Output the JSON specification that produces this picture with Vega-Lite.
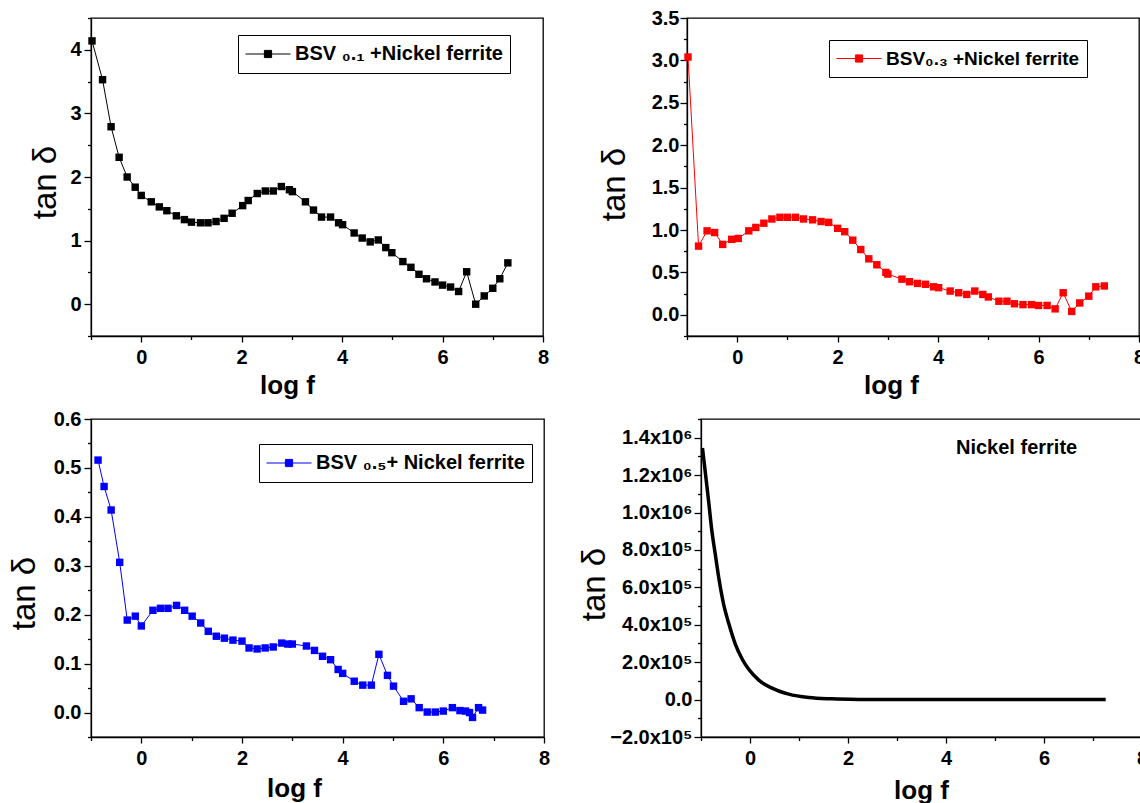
{
  "$schema": "https://vega.github.io/schema/vega-lite/v6.json",
  "background": "white",
  "padding": {"left": 7, "top": 7, "right": 0, "bottom": 0},
  "config": {
    "font": "Liberation Sans",
    "view": {"stroke": "#000000", "strokeWidth": 1.3},
    "axis": {
      "grid": false,
      "domainColor": "#000000",
      "domainWidth": 1.3,
      "tickColor": "#000000",
      "tickWidth": 1.3,
      "labelColor": "#000000",
      "labelFont": "Liberation Sans",
      "labelFontSize": 20,
      "labelFontWeight": "bold",
      "labelFlush": false,
      "labelOverlap": false,
      "titleColor": "#000000",
      "titleFont": "Liberation Sans"
    },
    "axisX": {"titleFontSize": 26, "titleFontWeight": "bold"},
    "axisY": {"titleFontSize": 33, "titleFontWeight": "normal"}
  },
  "datasets": {
    "bsv01": [
      {"logf": -0.98, "tan": 4.14}, {"logf": -0.77, "tan": 3.53}, {"logf": -0.6, "tan": 2.79}, {"logf": -0.44, "tan": 2.31},
      {"logf": -0.28, "tan": 2.0}, {"logf": -0.12, "tan": 1.84}, {"logf": 0.0, "tan": 1.71}, {"logf": 0.2, "tan": 1.61},
      {"logf": 0.36, "tan": 1.53}, {"logf": 0.51, "tan": 1.47}, {"logf": 0.7, "tan": 1.39}, {"logf": 0.86, "tan": 1.33},
      {"logf": 1.0, "tan": 1.29}, {"logf": 1.18, "tan": 1.28}, {"logf": 1.33, "tan": 1.28}, {"logf": 1.49, "tan": 1.3},
      {"logf": 1.65, "tan": 1.35}, {"logf": 1.81, "tan": 1.43}, {"logf": 2.02, "tan": 1.55}, {"logf": 2.13, "tan": 1.63},
      {"logf": 2.31, "tan": 1.74}, {"logf": 2.47, "tan": 1.78}, {"logf": 2.63, "tan": 1.78}, {"logf": 2.79, "tan": 1.85},
      {"logf": 2.95, "tan": 1.8}, {"logf": 3.01, "tan": 1.77}, {"logf": 3.27, "tan": 1.61}, {"logf": 3.43, "tan": 1.48},
      {"logf": 3.59, "tan": 1.37}, {"logf": 3.77, "tan": 1.37}, {"logf": 3.93, "tan": 1.28}, {"logf": 4.01, "tan": 1.25},
      {"logf": 4.24, "tan": 1.12}, {"logf": 4.4, "tan": 1.04}, {"logf": 4.56, "tan": 0.98}, {"logf": 4.72, "tan": 1.01},
      {"logf": 4.87, "tan": 0.89}, {"logf": 4.99, "tan": 0.81}, {"logf": 5.21, "tan": 0.67}, {"logf": 5.37, "tan": 0.58},
      {"logf": 5.53, "tan": 0.47}, {"logf": 5.68, "tan": 0.4}, {"logf": 5.85, "tan": 0.35}, {"logf": 6.0, "tan": 0.3},
      {"logf": 6.16, "tan": 0.27}, {"logf": 6.32, "tan": 0.2}, {"logf": 6.48, "tan": 0.51}, {"logf": 6.66, "tan": 0.0},
      {"logf": 6.83, "tan": 0.13}, {"logf": 7.0, "tan": 0.25}, {"logf": 7.14, "tan": 0.4}, {"logf": 7.3, "tan": 0.65}
    ],
    "bsv03": [
      {"logf": -0.98, "tan": 3.04}, {"logf": -0.77, "tan": 0.81}, {"logf": -0.6, "tan": 0.99}, {"logf": -0.45, "tan": 0.97},
      {"logf": -0.29, "tan": 0.83}, {"logf": -0.11, "tan": 0.89}, {"logf": 0.02, "tan": 0.9}, {"logf": 0.23, "tan": 0.99},
      {"logf": 0.37, "tan": 1.03}, {"logf": 0.53, "tan": 1.08}, {"logf": 0.69, "tan": 1.13}, {"logf": 0.85, "tan": 1.15},
      {"logf": 1.0, "tan": 1.15}, {"logf": 1.16, "tan": 1.15}, {"logf": 1.32, "tan": 1.13}, {"logf": 1.5, "tan": 1.12},
      {"logf": 1.67, "tan": 1.1}, {"logf": 1.82, "tan": 1.09}, {"logf": 2.0, "tan": 1.02}, {"logf": 2.14, "tan": 0.98},
      {"logf": 2.3, "tan": 0.88}, {"logf": 2.46, "tan": 0.77}, {"logf": 2.62, "tan": 0.66}, {"logf": 2.78, "tan": 0.59},
      {"logf": 2.96, "tan": 0.5}, {"logf": 3.0, "tan": 0.48}, {"logf": 3.28, "tan": 0.42}, {"logf": 3.43, "tan": 0.39},
      {"logf": 3.59, "tan": 0.37}, {"logf": 3.75, "tan": 0.36}, {"logf": 3.91, "tan": 0.33}, {"logf": 4.01, "tan": 0.32},
      {"logf": 4.24, "tan": 0.28}, {"logf": 4.41, "tan": 0.26}, {"logf": 4.57, "tan": 0.24}, {"logf": 4.73, "tan": 0.28},
      {"logf": 4.89, "tan": 0.24}, {"logf": 5.0, "tan": 0.21}, {"logf": 5.21, "tan": 0.16}, {"logf": 5.37, "tan": 0.16},
      {"logf": 5.52, "tan": 0.13}, {"logf": 5.69, "tan": 0.12}, {"logf": 5.86, "tan": 0.12}, {"logf": 6.0, "tan": 0.11},
      {"logf": 6.17, "tan": 0.11}, {"logf": 6.33, "tan": 0.07}, {"logf": 6.49, "tan": 0.26}, {"logf": 6.66, "tan": 0.04},
      {"logf": 6.82, "tan": 0.14}, {"logf": 7.0, "tan": 0.22}, {"logf": 7.14, "tan": 0.33}, {"logf": 7.31, "tan": 0.34}
    ],
    "bsv05": [
      {"logf": -0.86, "tan": 0.516}, {"logf": -0.74, "tan": 0.462}, {"logf": -0.6, "tan": 0.414}, {"logf": -0.43, "tan": 0.307},
      {"logf": -0.28, "tan": 0.189}, {"logf": -0.12, "tan": 0.197}, {"logf": 0.0, "tan": 0.177}, {"logf": 0.23, "tan": 0.209},
      {"logf": 0.38, "tan": 0.213}, {"logf": 0.53, "tan": 0.213}, {"logf": 0.7, "tan": 0.219}, {"logf": 0.86, "tan": 0.209},
      {"logf": 1.01, "tan": 0.197}, {"logf": 1.18, "tan": 0.183}, {"logf": 1.33, "tan": 0.166}, {"logf": 1.49, "tan": 0.156},
      {"logf": 1.65, "tan": 0.152}, {"logf": 1.82, "tan": 0.148}, {"logf": 2.0, "tan": 0.146}, {"logf": 2.14, "tan": 0.132},
      {"logf": 2.3, "tan": 0.13}, {"logf": 2.46, "tan": 0.132}, {"logf": 2.62, "tan": 0.134}, {"logf": 2.79, "tan": 0.142},
      {"logf": 2.91, "tan": 0.14}, {"logf": 3.0, "tan": 0.14}, {"logf": 3.28, "tan": 0.136}, {"logf": 3.44, "tan": 0.127},
      {"logf": 3.6, "tan": 0.115}, {"logf": 3.76, "tan": 0.108}, {"logf": 3.91, "tan": 0.088}, {"logf": 4.0, "tan": 0.08},
      {"logf": 4.23, "tan": 0.064}, {"logf": 4.4, "tan": 0.056}, {"logf": 4.57, "tan": 0.056}, {"logf": 4.72, "tan": 0.119},
      {"logf": 4.89, "tan": 0.076}, {"logf": 5.01, "tan": 0.054}, {"logf": 5.21, "tan": 0.023}, {"logf": 5.36, "tan": 0.028},
      {"logf": 5.52, "tan": 0.01}, {"logf": 5.68, "tan": 0.001}, {"logf": 5.84, "tan": 0.001}, {"logf": 6.0, "tan": 0.003},
      {"logf": 6.18, "tan": 0.01}, {"logf": 6.33, "tan": 0.004}, {"logf": 6.44, "tan": 0.003}, {"logf": 6.52, "tan": 0.0},
      {"logf": 6.58, "tan": -0.01}, {"logf": 6.7, "tan": 0.01}, {"logf": 6.78, "tan": 0.005}
    ],
    "nife": [
      {"logf": -0.97, "tan": 1345000}, {"logf": -0.91, "tan": 1210000}, {"logf": -0.84, "tan": 1050000}, {"logf": -0.78, "tan": 905000},
      {"logf": -0.71, "tan": 780000}, {"logf": -0.64, "tan": 655000}, {"logf": -0.54, "tan": 512000}, {"logf": -0.43, "tan": 404000},
      {"logf": -0.3, "tan": 297000}, {"logf": -0.16, "tan": 217000}, {"logf": -0.03, "tan": 163000}, {"logf": 0.18, "tan": 104000},
      {"logf": 0.45, "tan": 61000}, {"logf": 0.79, "tan": 29000}, {"logf": 1.2, "tan": 11000}, {"logf": 1.67, "tan": 4000},
      {"logf": 2.22, "tan": 1000}, {"logf": 2.9, "tan": 0}, {"logf": 4.0, "tan": 0}, {"logf": 5.0, "tan": 0},
      {"logf": 6.0, "tan": 0}, {"logf": 7.26, "tan": 0}
    ]
  },
  "spacing": 9,
  "resolve": {"scale": {"x": "independent", "y": "independent", "color": "independent"}, "legend": {"color": "independent"}},
  "vconcat": [
    {
      "hconcat": [
        {
          "width": 452, "height": 318,
          "data": {"name": "bsv01"},
          "layer": [
            {
              "mark": {"type": "line", "strokeWidth": 1},
              "encoding": {
                "x": {"field": "logf", "type": "quantitative", "scale": {"domain": [-1, 8], "nice": false, "zero": false},
                  "axis": {"values": [0, 2, 4, 6, 8], "format": "d", "title": "log f", "tickSize": 6, "labelPadding": 5, "labelFontWeight": "bold", "titleX": 196, "titleY": 57, "titleBaseline": "alphabetic", "titleAlign": "center"}},
                "y": {"field": "tan", "type": "quantitative", "scale": {"domain": [-0.5, 4.5], "nice": false, "zero": false},
                  "axis": {"values": [0, 1, 2, 3, 4], "format": "d", "title": "tan δ", "tickSize": 7, "labelPadding": 3, "labelFontWeight": "bold", "titleX": -36, "titleY": 164, "titleAngle": -90, "titleBaseline": "alphabetic", "titleAlign": "center"}},
                "color": {"datum": "BSV ₀.₁ +Nickel ferrite", "type": "nominal", "scale": {"range": ["#000000"]},
                  "legend": {"title": null, "orient": "none", "legendX": 147, "legendY": 17, "strokeColor": "#000000", "fillColor": "white", "padding": 7,
                    "labelFont": "Liberation Sans", "labelFontSize": 20, "labelFontWeight": "bold", "labelColor": "#000000", "labelLimit": 400, "labelOffset": 4,
                    "symbolType": "M-1,0H1M-0.16,-0.16H0.16V0.16H-0.16Z", "symbolSize": 2025, "clipHeight": 24, "symbolStrokeWidth": 1,
                    "encode": {"symbols": {"update": {"fill": {"value": "#000000"}, "stroke": {"value": "#000000"}, "strokeWidth": {"value": 1}}}}}}
              }
            },
            {
              "mark": {"type": "point", "shape": "square", "filled": true, "size": 55, "color": "#000000", "opacity": 1},
              "encoding": {
                "x": {"field": "logf", "type": "quantitative", "axis": {"orient": "bottom", "values": [-1, 1, 3, 5, 7], "labels": false, "domain": false, "title": null, "tickSize": 3.5}},
                "y": {"field": "tan", "type": "quantitative", "axis": {"orient": "left", "values": [-0.5, 0.5, 1.5, 2.5, 3.5, 4.5], "labels": false, "domain": false, "tickSize": 3.5,
                  "title": "tan δ", "titleOpacity": 0, "titleX": -57, "titleY": 164, "titleAngle": -90, "titleBaseline": "alphabetic", "titleAlign": "center"}}
              }
            }
          ],
          "resolve": {"axis": {"x": "independent", "y": "independent"}}
        },
        {
          "width": 452, "height": 318,
          "data": {"name": "bsv03"},
          "layer": [
            {
              "mark": {"type": "line", "strokeWidth": 1},
              "encoding": {
                "x": {"field": "logf", "type": "quantitative", "scale": {"domain": [-1, 8], "nice": false, "zero": false},
                  "axis": {"values": [0, 2, 4, 6, 8], "format": "d", "title": "log f", "tickSize": 6, "labelPadding": 5, "labelFontWeight": "bold", "titleX": 204, "titleY": 57, "titleBaseline": "alphabetic", "titleAlign": "center"}},
                "y": {"field": "tan", "type": "quantitative", "scale": {"domain": [-0.25, 3.5], "nice": false, "zero": false},
                  "axis": {"values": [0, 0.5, 1, 1.5, 2, 2.5, 3, 3.5], "format": ".1f", "title": "tan δ", "tickSize": 7, "labelPadding": 1, "labelFontWeight": "bold", "titleX": -63, "titleY": 166, "titleAngle": -90, "titleBaseline": "alphabetic", "titleAlign": "center"}},
                "color": {"datum": "BSV₀.₃ +Nickel ferrite", "type": "nominal", "scale": {"range": ["#ff0000"]},
                  "legend": {"title": null, "orient": "none", "legendX": 142, "legendY": 22, "strokeColor": "#000000", "fillColor": "white", "padding": 7,
                    "labelFont": "Liberation Sans", "labelFontSize": 19, "labelFontWeight": "bold", "labelColor": "#000000", "labelLimit": 400, "labelOffset": 4,
                    "symbolType": "M-1,0H1M-0.16,-0.16H0.16V0.16H-0.16Z", "symbolSize": 2025, "clipHeight": 23, "symbolStrokeWidth": 1,
                    "encode": {"symbols": {"update": {"fill": {"value": "#ff0000"}, "stroke": {"value": "#ff0000"}, "strokeWidth": {"value": 1}}}}}}
              }
            },
            {
              "mark": {"type": "point", "shape": "square", "filled": true, "size": 55, "color": "#ff0000", "opacity": 1},
              "encoding": {
                "x": {"field": "logf", "type": "quantitative", "axis": {"orient": "bottom", "values": [-1, 1, 3, 5, 7], "labels": false, "domain": false, "title": null, "tickSize": 3.5}},
                "y": {"field": "tan", "type": "quantitative", "axis": {"orient": "left", "values": [-0.25, 0.25, 0.75, 1.25, 1.75, 2.25, 2.75, 3.25], "labels": false, "domain": false, "title": null, "tickSize": 3.5}}
              }
            }
          ],
          "resolve": {"axis": {"x": "independent", "y": "independent"}}
        }
      ],
      "spacing": 144,
      "bounds": "flush",
      "resolve": {"scale": {"x": "independent", "y": "independent", "color": "independent"}, "legend": {"color": "independent"}}
    },
    {
      "hconcat": [
        {
          "width": 453, "height": 318,
          "data": {"name": "bsv05"},
          "layer": [
            {
              "mark": {"type": "line", "strokeWidth": 1},
              "encoding": {
                "x": {"field": "logf", "type": "quantitative", "scale": {"domain": [-1, 8], "nice": false, "zero": false},
                  "axis": {"values": [0, 2, 4, 6, 8], "format": "d", "title": "log f", "tickSize": 6, "labelPadding": 5, "labelFontWeight": "bold", "titleX": 203, "titleY": 59, "titleBaseline": "alphabetic", "titleAlign": "center"}},
                "y": {"field": "tan", "type": "quantitative", "scale": {"domain": [-0.05, 0.6], "nice": false, "zero": false},
                  "axis": {"values": [0, 0.1, 0.2, 0.3, 0.4, 0.5, 0.6], "format": ".1f", "title": "tan δ", "tickSize": 7, "labelPadding": 3, "labelFontWeight": "bold", "titleX": -57, "titleY": 174, "titleAngle": -90, "titleBaseline": "alphabetic", "titleAlign": "center"}},
                "color": {"datum": "BSV ₀.₅+ Nickel ferrite", "type": "nominal", "scale": {"range": ["#0000ff"]},
                  "legend": {"title": null, "orient": "none", "legendX": 168, "legendY": 25, "strokeColor": "#000000", "fillColor": "white", "padding": 7,
                    "labelFont": "Liberation Sans", "labelFontSize": 20, "labelFontWeight": "bold", "labelColor": "#000000", "labelLimit": 400, "labelOffset": 4,
                    "symbolType": "M-1,0H1M-0.16,-0.16H0.16V0.16H-0.16Z", "symbolSize": 2025, "clipHeight": 24, "symbolStrokeWidth": 1,
                    "encode": {"symbols": {"update": {"fill": {"value": "#0000ff"}, "stroke": {"value": "#0000ff"}, "strokeWidth": {"value": 1}}}}}}
              }
            },
            {
              "mark": {"type": "point", "shape": "square", "filled": true, "size": 55, "color": "#0000ff", "opacity": 1},
              "encoding": {
                "x": {"field": "logf", "type": "quantitative", "axis": {"orient": "bottom", "values": [-1, 1, 3, 5, 7], "labels": false, "domain": false, "title": null, "tickSize": 3.5}},
                "y": {"field": "tan", "type": "quantitative", "axis": {"orient": "left", "values": [-0.05, 0.05, 0.15, 0.25, 0.35, 0.45, 0.55], "labels": false, "domain": false, "title": null, "tickSize": 3.5}}
              }
            }
          ],
          "resolve": {"axis": {"x": "independent", "y": "independent"}}
        },
        {
          "width": 441, "height": 318,
          "data": {"name": "nife"},
          "layer": [
            {
              "mark": {"type": "line", "strokeWidth": 3.5, "interpolate": "monotone"},
              "encoding": {
                "x": {"field": "logf", "type": "quantitative", "scale": {"domain": [-1, 8], "nice": false, "zero": false},
                  "axis": {"values": [0, 2, 4, 6, 8], "format": "d", "title": "log f", "tickSize": 6, "labelPadding": 5, "labelFontWeight": "bold", "titleX": 220, "titleY": 61, "titleBaseline": "alphabetic", "titleAlign": "center"}},
                "y": {"field": "tan", "type": "quantitative", "scale": {"domain": [-200000, 1500000], "nice": false, "zero": false},
                  "axis": {"values": [-200000, 0, 200000, 400000, 600000, 800000, 1000000, 1200000, 1400000],
                    "labelExpr": "datum.value == 0 ? '0.0' : (abs(datum.value) >= 1000000 ? format(datum.value / 1000000, '.1f') + 'x10⁶' : format(datum.value / 100000, '.1f') + 'x10⁵')",
                    "labelFontWeight": "bold", "title": "tan δ", "tickSize": 7, "labelPadding": 2, "titleX": -97, "titleY": 165, "titleAngle": -90, "titleBaseline": "alphabetic", "titleAlign": "center"}},
                "color": {"datum": "Nickel ferrite", "type": "nominal", "scale": {"range": ["#000000"]},
                  "legend": {"title": null, "orient": "none", "legendX": 235, "legendY": 19, "padding": 0,
                    "labelFont": "Liberation Sans", "labelFontSize": 20, "labelFontWeight": "bold", "labelColor": "#000000", "labelLimit": 400, "labelOffset": 0,
                    "symbolSize": 0, "symbolOpacity": 0}}
              }
            },
            {
              "mark": {"type": "line", "strokeWidth": 3.5, "interpolate": "monotone", "color": "#000000", "opacity": 0},
              "encoding": {
                "x": {"field": "logf", "type": "quantitative", "axis": {"orient": "bottom", "values": [-1, 1, 3, 5, 7], "labels": false, "domain": false, "title": null, "tickSize": 3.5}},
                "y": {"field": "tan", "type": "quantitative", "axis": {"orient": "left", "values": [-100000, 100000, 300000, 500000, 700000, 900000, 1100000, 1300000, 1500000], "labels": false, "domain": false, "title": null, "tickSize": 3.5}}
              }
            }
          ],
          "resolve": {"axis": {"x": "independent", "y": "independent"}}
        }
      ],
      "spacing": 157,
      "bounds": "flush",
      "resolve": {"scale": {"x": "independent", "y": "independent", "color": "independent"}, "legend": {"color": "independent"}}
    }
  ]
}
